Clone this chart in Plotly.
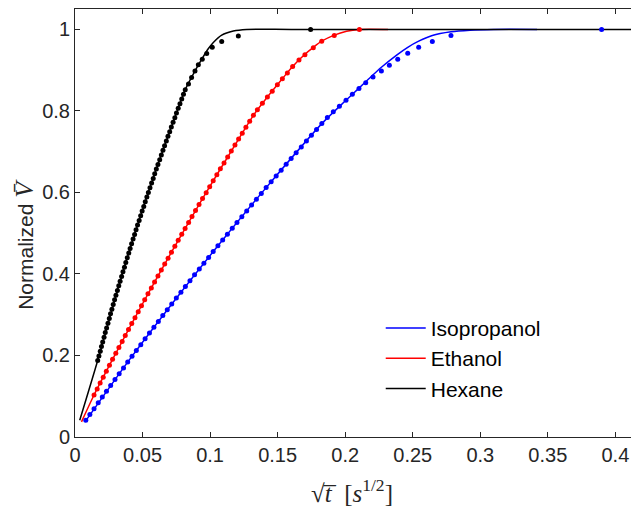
import plotly.graph_objects as go

# ---------------- data ----------------
x_tick_vals = [0, 0.05, 0.1, 0.15, 0.2, 0.25, 0.3, 0.35, 0.4]
x_tick_text = ["0", "0.05", "0.1", "0.15", "0.2", "0.25", "0.3", "0.35", "0.4"]
y_tick_vals = [0, 0.2, 0.4, 0.6, 0.8, 1.0]
y_tick_text = ["0", "0.2", "0.4", "0.6", "0.8", "1"]

series_names = ["Isopropanol", "Ethanol", "Hexane"]

# measured points
iso_x = [0.0080, 0.0110, 0.0141, 0.0172, 0.0202, 0.0233, 0.0264, 0.0296, 0.0327, 0.0359,
         0.0390, 0.0422, 0.0454, 0.0487, 0.0519, 0.0551, 0.0584, 0.0617, 0.0650, 0.0683,
         0.0716, 0.0750, 0.0784, 0.0817, 0.0851, 0.0885, 0.0920, 0.0954, 0.0989, 0.1023,
         0.1058, 0.1093, 0.1128, 0.1164, 0.1199, 0.1235, 0.1271, 0.1307, 0.1343, 0.1379,
         0.1415, 0.1452, 0.1489, 0.1526, 0.1563, 0.1600, 0.1637, 0.1675, 0.1713, 0.1750,
         0.1788, 0.1827, 0.1868, 0.1912, 0.1957, 0.2006, 0.2053, 0.2102, 0.2152, 0.2206,
         0.2268, 0.2327, 0.2389, 0.2463, 0.2544, 0.2645, 0.2783, 0.3898]
iso_y = [0.041, 0.0553, 0.0695, 0.0838, 0.0981, 0.1124, 0.1266, 0.1409, 0.1552, 0.1694,
         0.1837, 0.198, 0.2122, 0.2265, 0.2408, 0.2551, 0.2693, 0.2836, 0.2979, 0.3121,
         0.3264, 0.3407, 0.3549, 0.3692, 0.3835, 0.3978, 0.412, 0.4263, 0.4406, 0.4548,
         0.4691, 0.4834, 0.4976, 0.5119, 0.5262, 0.5405, 0.5547, 0.569, 0.5833, 0.5975,
         0.6118, 0.6261, 0.6403, 0.6546, 0.6689, 0.6832, 0.6974, 0.7117, 0.726, 0.7402,
         0.7545, 0.7688, 0.784, 0.798, 0.8115, 0.826, 0.841, 0.855, 0.869, 0.883,
         0.898, 0.912, 0.927, 0.9416, 0.956, 0.970, 0.985, 1.0]

eth_x = [0.0141, 0.0164, 0.0186, 0.0209, 0.0232, 0.0255, 0.0278, 0.0302, 0.0325, 0.0349,
         0.0372, 0.0396, 0.0420, 0.0444, 0.0468, 0.0492, 0.0516, 0.0540, 0.0565, 0.0589,
         0.0614, 0.0639, 0.0664, 0.0689, 0.0714, 0.0739, 0.0764, 0.0790, 0.0815, 0.0841,
         0.0866, 0.0892, 0.0918, 0.0944, 0.0971, 0.0997, 0.1023, 0.1050, 0.1076, 0.1103,
         0.1130, 0.1157, 0.1184, 0.1211, 0.1238, 0.1265, 0.1293, 0.1321, 0.1350, 0.1387,
         0.1424, 0.1460, 0.1498, 0.1535, 0.1572, 0.1611, 0.1658, 0.1702, 0.1764, 0.1826,
         0.1919, 0.2105]
eth_y = [0.103, 0.1176, 0.1322, 0.1468, 0.1614, 0.176, 0.1906, 0.2052, 0.2198, 0.2344,
         0.249, 0.2636, 0.2782, 0.2928, 0.3074, 0.322, 0.3366, 0.3512, 0.3658, 0.3804,
         0.395, 0.4096, 0.4242, 0.4388, 0.4534, 0.468, 0.4826, 0.4972, 0.5118, 0.5264,
         0.541, 0.5556, 0.5702, 0.5848, 0.5994, 0.614, 0.6286, 0.6432, 0.6578, 0.6724,
         0.687, 0.7016, 0.7162, 0.7308, 0.7454, 0.76, 0.7746, 0.7892, 0.803, 0.819,
         0.834, 0.848, 0.864, 0.879, 0.893, 0.909, 0.925, 0.938, 0.955, 0.971,
         0.985, 1.0]

hex_x = [0.0168, 0.0177, 0.0187, 0.0196, 0.0205, 0.0215, 0.0224, 0.0234, 0.0244, 0.0254,
         0.0263, 0.0273, 0.0283, 0.0293, 0.0303, 0.0314, 0.0324, 0.0334, 0.0345, 0.0355,
         0.0366, 0.0376, 0.0387, 0.0398, 0.0408, 0.0419, 0.0430, 0.0441, 0.0452, 0.0463,
         0.0475, 0.0486, 0.0497, 0.0509, 0.0520, 0.0532, 0.0543, 0.0555, 0.0567, 0.0579,
         0.0590, 0.0602, 0.0614, 0.0627, 0.0639, 0.0651, 0.0663, 0.0676, 0.0688, 0.0701,
         0.0713, 0.0726, 0.0739, 0.0751, 0.0764, 0.0777, 0.0790, 0.0803, 0.0816, 0.0840,
         0.0863, 0.0888, 0.0913, 0.0942, 0.0975, 0.1016, 0.1086, 0.1209, 0.1744]
hex_y = [0.1875, 0.199, 0.2104, 0.2219, 0.2333, 0.2448, 0.2563, 0.2677, 0.2792, 0.2906,
         0.3021, 0.3136, 0.325, 0.3365, 0.3479, 0.3594, 0.3709, 0.3823, 0.3938, 0.4052,
         0.4167, 0.4282, 0.4396, 0.4511, 0.4625, 0.474, 0.4855, 0.4969, 0.5084, 0.5198,
         0.5313, 0.5428, 0.5542, 0.5657, 0.5771, 0.5886, 0.6001, 0.6115, 0.623, 0.6344,
         0.6459, 0.6574, 0.6688, 0.6803, 0.6917, 0.7032, 0.7147, 0.7261, 0.7376, 0.749,
         0.7605, 0.772, 0.7834, 0.7949, 0.8063, 0.8178, 0.8293, 0.8407, 0.8522, 0.866,
         0.882, 0.898, 0.913, 0.927, 0.941, 0.956, 0.970, 0.984, 1.0]

# model curves
iso_fit_x = [0.0074, 0.0390, 0.0717, 0.1058, 0.1415, 0.1827, 0.2006, 0.2102, 0.2160,
             0.2268, 0.2381, 0.2463, 0.2544, 0.2645, 0.2783, 0.2924, 0.3100, 0.3420]
iso_fit_y = [0.037, 0.1837, 0.3264, 0.4691, 0.6118, 0.7688, 0.826, 0.856, 0.874,
             0.907, 0.937, 0.956, 0.971, 0.985, 0.994, 0.998, 1.0, 1.0]

eth_fit_x = [0.0048, 0.0141, 0.0302, 0.0492, 0.0714, 0.0944, 0.1184, 0.1321, 0.1424,
             0.1535, 0.1611, 0.1702, 0.1764, 0.1826, 0.1919, 0.2010, 0.2105, 0.2317]
eth_fit_y = [0.037, 0.103, 0.2052, 0.322, 0.4534, 0.5848, 0.7162, 0.7892, 0.834,
             0.879, 0.909, 0.939, 0.956, 0.971, 0.986, 0.9955, 1.0, 1.0]

hex_fit_x = [0.0035, 0.0168, 0.0314, 0.0408, 0.0543, 0.0651, 0.0764, 0.0816, 0.0888,
             0.0942, 0.0985, 0.1024, 0.1086, 0.1172, 0.1270, 0.1600, 0.2500, 0.4200]
hex_fit_y = [0.041, 0.1875, 0.3594, 0.4625, 0.6001, 0.7032, 0.8063, 0.8522, 0.898,
             0.929, 0.952, 0.968, 0.986, 0.996, 1.0, 1.0, 1.0, 1.0]

colors = ["#0000FF", "#FF0000", "#000000"]

x_title = "√<i>t̅</i>\u00a0\u00a0[<i>s</i><sup>1/2</sup>]"
y_title = ("Normalized <span style='font-family:Liberation Serif;font-size:26px'>"
           "<i>V\u0304</i></span>")

# ---------------- figure ----------------
AX = "#262626"
fig = go.Figure()

points = [(iso_x, iso_y), (eth_x, eth_y), (hex_x, hex_y)]
fits = [(iso_fit_x, iso_fit_y), (eth_fit_x, eth_fit_y), (hex_fit_x, hex_fit_y)]

for name, (fx, fy), c in zip(series_names, fits, colors):
    fig.add_trace(go.Scatter(x=fx, y=fy, mode="lines", name=name,
                             line=dict(color=c, width=1.5, shape="spline", smoothing=0.8),
                             showlegend=True))
for name, (px, py), c in zip(series_names, points, colors):
    fig.add_trace(go.Scatter(x=px, y=py, mode="markers", name=name + " data",
                             marker=dict(color=c, size=5, line=dict(width=0)),
                             showlegend=False))

axis_common = dict(ticks="inside", ticklen=5, tickwidth=1, tickcolor=AX,
                   showline=True, linecolor=AX, linewidth=1, mirror="ticks",
                   showgrid=False, zeroline=False, automargin=False,
                   tickfont=dict(family="Liberation Sans, Arial, sans-serif", size=20, color=AX))

# the page body adds an 8 px offset, so the figure is 8 px smaller than the window
fig.update_layout(
    width=631, height=498,
    margin=dict(l=67, r=2, t=1, b=69),
    plot_bgcolor="white", paper_bgcolor="white",
    font=dict(family="Liberation Sans, Arial, sans-serif", size=20, color=AX),
    legend=dict(x=0.544, y=0.302, xanchor="left", yanchor="top",
                bgcolor="rgba(0,0,0,0)", borderwidth=0,
                font=dict(size=21, color="#000000"), itemwidth=40,
                tracegroupgap=0),
    xaxis=dict(range=[0, 0.416], tickvals=x_tick_vals, ticktext=x_tick_text, **axis_common),
    yaxis=dict(range=[0, 1.05], tickvals=y_tick_vals, ticktext=y_tick_text, **axis_common),
    annotations=[
        dict(text=x_title, xref="paper", yref="paper", x=0.493, y=-0.125,
             xanchor="center", yanchor="middle", showarrow=False,
             font=dict(family="Liberation Serif, serif", size=25, color=AX)),
        dict(text=y_title, xref="paper", yref="paper", x=-0.09, y=0.45,
             xanchor="center", yanchor="middle", showarrow=False, textangle=-90,
             font=dict(family="Liberation Sans, Arial, sans-serif", size=21, color=AX)),
    ],
)

fig.write_html("out.html")
